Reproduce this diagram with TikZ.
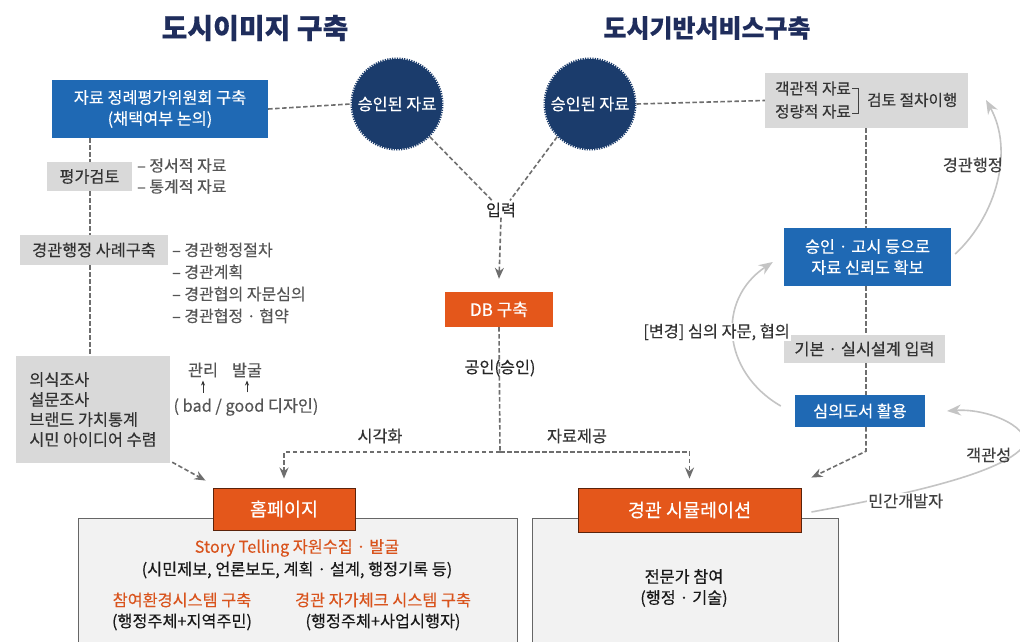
\documentclass[tikz,border=0pt]{standalone}
\usepackage{fontspec}
\setmainfont{Noto Sans CJK KR}[FakeBold=0.25]
\usetikzlibrary{arrows.meta,calc}
\definecolor{navy}{HTML}{1B3C6C}
\definecolor{tnavy}{HTML}{1F2D5C}
\definecolor{bluebox}{HTML}{1F69B4}
\definecolor{orangebox}{HTML}{E4571B}
\definecolor{graybox}{HTML}{D9D9D9}
\definecolor{dashc}{HTML}{6E6E6E}
\definecolor{curvec}{HTML}{C4C4C4}
\definecolor{panel}{HTML}{F2F2F2}
\definecolor{txtgray}{HTML}{555555}
\definecolor{orangetxt}{HTML}{D9541E}
\begin{document}
\begin{tikzpicture}[x=1pt,y=-1pt,
  every node/.style={font=\fontsize{16.3}{19}\selectfont, inner sep=0pt},
  bbox/.style={fill=bluebox, text=white, align=center, font=\fontsize{16.3}{21}\selectfont},
  gbox/.style={fill=graybox, text=black!80, align=center},
  obox/.style={fill=orangebox, text=white, font=\fontsize{18.5}{20}\selectfont},
  oboxb/.style={obox, draw=black!60!orangebox, line width=0.9pt},
  circ/.style={circle, fill=navy, draw=navy, line width=3pt, dash pattern=on 1.2pt off 1.2pt, minimum size=90pt, text=white, font=\fontsize{16.3}{19}\selectfont},
  dsh/.style={draw=dashc, line width=1.6pt, dash pattern=on 4.5pt off 2.5pt},
  dtip/.style={-{Stealth[length=11pt,width=9pt]}},
  curv/.style={draw=curvec, line width=1.6pt, -{Stealth[length=14pt,width=11pt]}},
  panelbox/.style={fill=panel, draw=black!60, line width=1.2pt},
  side/.style={text=txtgray, anchor=west, align=left},
  lbl/.style={text=black!85},
]
\useasboundingbox (0,0) rectangle (1020,642);
\fill[white] (0,0) rectangle (1020,642);

% titles
\node[font=\fontsize{28}{32}\selectfont\bfseries, text=tnavy] (t1) at (255,28) {도시이미지 구축};
\node[font=\fontsize{25}{32}\selectfont\bfseries, text=tnavy] (t2) at (707,28) {도시기반서비스구축};

% top row
\node[bbox, minimum width=216pt, minimum height=58pt] (b1) at (160,109) {자료 정례평가위원회 구축\\(채택여부 논의)};
\node[circ] (c1) at (397,104) {승인된 자료};
\node[circ] (c2) at (590,104) {승인된 자료};
\node[gbox, minimum width=203pt, minimum height=55pt] (gb) at (866.5,100.5) {};
\node[text=black!80, align=left, font=\fontsize{15.7}{23}\selectfont] (gbl) at (813,100) {객관적 자료\\정량적 자료};
\node[text=black!80, anchor=west, font=\fontsize{15.7}{19}\selectfont] (gbr) at (867,100) {검토 절차이행};
\draw[black!75, line width=0.8pt] ($(gbl.east)+(1,-12)$) -- ++(6,0) -- ++(0,25) -- ++(-6,0);

% left column
\node[gbox, minimum width=85pt, minimum height=29pt] (ev) at (89.5,176.5) {평가검토};
\node[side, font=\fontsize{16}{21}\selectfont] (evl) at (137,176) {– 정서적 자료\\– 통계적 자료};
\node[gbox, minimum width=148pt, minimum height=30pt] (cs) at (94,250) {경관행정 사례구축};
\node[side, font=\fontsize{16}{22}\selectfont] (csl) at (172,283) {– 경관행정절차\\– 경관계획\\– 경관협의 자문심의\\– 경관협정 · 협약};
\node[gbox, minimum width=154pt, minimum height=107pt, align=left, font=\fontsize{16.3}{20}\selectfont] (sv) at (93,409.5) {의식조사\\설문조사\\브랜드 가치통계\\시민 아이디어 수렴};
\node[text=txtgray] (mg) at (203,370) {관리};
\node[text=txtgray] (fd) at (247,370) {발굴};
\node[text=txtgray] (bg) at (246,407) {( bad / good 디자인)};
\draw[black!80, line width=0.7pt, -{Stealth[length=5pt,width=4pt]}] ($(mg.south)+(0,15)$) -- ($(mg.south)+(0,3)$);
\draw[black!80, line width=0.7pt, -{Stealth[length=5pt,width=4pt]}] ($(fd.south)+(0,15)$) -- ($(fd.south)+(0,3)$);

% center
\node[lbl] (inp) at (501,210) {입력};
\node[obox, minimum width=108pt, minimum height=35pt, font=\fontsize{17}{20}\selectfont] (db) at (499,309.5) {DB 구축};
\coordinate (J) at (500,452);

% bottom panels
\node[panelbox, minimum width=439pt, minimum height=140pt, anchor=north west] (p1) at (78,518) {};
\node[panelbox, minimum width=306pt, minimum height=140pt, anchor=north west] (p2) at (532,518) {};
\node[oboxb, minimum width=142pt, minimum height=42pt] (home) at (284,509) {홈페이지};
\node[oboxb, minimum width=223pt, minimum height=44pt] (sim) at (689.5,510) {경관 시뮬레이션};
\node[text=orangetxt] (st1) at (297,548) {Story Telling 자원수집 · 발굴};
\node[text=black!90] (st2) at (297,570) {(시민제보, 언론보도, 계획 · 설계, 행정기록 등)};
\node[text=orangetxt] (pa1) at (182,600) {참여환경시스템 구축};
\node[text=black!90] (pa2) at (182,622) {(행정주체+지역주민)};
\node[text=orangetxt] (sc1) at (383,600) {경관 자가체크 시스템 구축};
\node[text=black!90] (sc2) at (383,622) {(행정주체+사업시행자)};
\node[text=black!90, align=center, font=\fontsize{16.3}{21}\selectfont] (ex) at (684,588) {전문가 참여\\(행정 · 기술)};

% right column
\node[bbox, minimum width=167pt, minimum height=58pt] (ap) at (867.5,257) {승인 · 고시 등으로\\자료 신뢰도 확보};
\node[gbox, minimum width=161pt, minimum height=28pt] (bs) at (864.5,349) {기본 · 실시설계 입력};
\node[bbox, minimum width=130pt, minimum height=32pt] (rv) at (860,411) {심의도서 활용};
\coordinate (rx) at (866,0);
\coordinate (lx) at (90,0);

% dashed connectors
\draw[dsh] (b1.east) -- (c1.west);
\draw[dsh] (c2.east) -- (gb.west);
\draw[dsh] (c1.-45) -- ($(inp.north)+(-9,-2)$);
\draw[dsh] (c2.-135) -- ($(inp.north)+(9,-2)$);
\draw[dsh,dtip] (inp.south) -- ($(db.north)+(0,-13)$);
\draw[dsh] (db.south) -- (J);
\draw[dsh,dtip] (J) -| ($(home.north)+(0,-9)$);
\draw[dsh,dtip] (J) -| ($(sim.north)+(0,-9)$);
\draw[dsh] (b1.south -| lx) -- (ev.north -| lx);
\draw[dsh] (ev.south -| lx) -- (cs.north -| lx);
\draw[dsh] (cs.south -| lx) -- (sv.north -| lx);
\draw[dsh,dtip] ($(sv.south east)+(2,-1)$) -- ($(home.north west)+(-7,-7)$);
\draw[dsh] (gb.south -| rx) -- (ap.north -| rx);
\draw[dsh] (ap.south -| rx) -- (bs.north -| rx);
\draw[dsh] (bs.south -| rx) -- (rv.north -| rx);
\draw[dsh,dtip] (rv.south -| rx) -- ++(0,24) -- ($(sim.north east)+(10,-10)$);

% labels on connectors
\node[lbl] (gi) at (500,368) {공인(승인)};
\node[text=black!80] (vis) at (380,436) {시각화};
\node[text=black!80] (sup) at (577,436) {자료제공};

% curved grey arrows
\draw[curv] ($(rv.west)+(-14,-5)$) .. controls (722,372) and (716,300) .. ($(ap.west)+(-11,5)$);
\node[text=black!80, fill=white, inner sep=1pt, anchor=east] (chg) at (791,332) {[변경] 심의 자문, 협의};
\draw[curv] ($(ap.east)+(4,-3)$) .. controls (997,215) and (1014,150) .. (986,100);
\node[text=black!75, anchor=east] (adm) at (1003,165) {경관행정};
\draw[curv] ($(sim.east)+(10,2)$) .. controls (920,492) and (1000,472) .. (1022,448) .. controls (1036,430) and (990,408) .. (947,411);
\node[text=black!75, fill=white, inner sep=1pt, anchor=west] (pd) at (867,501) {민간개발자};
\node[text=black!75, anchor=west] (obj) at (966,455) {객관성};
\end{tikzpicture}
\end{document}
